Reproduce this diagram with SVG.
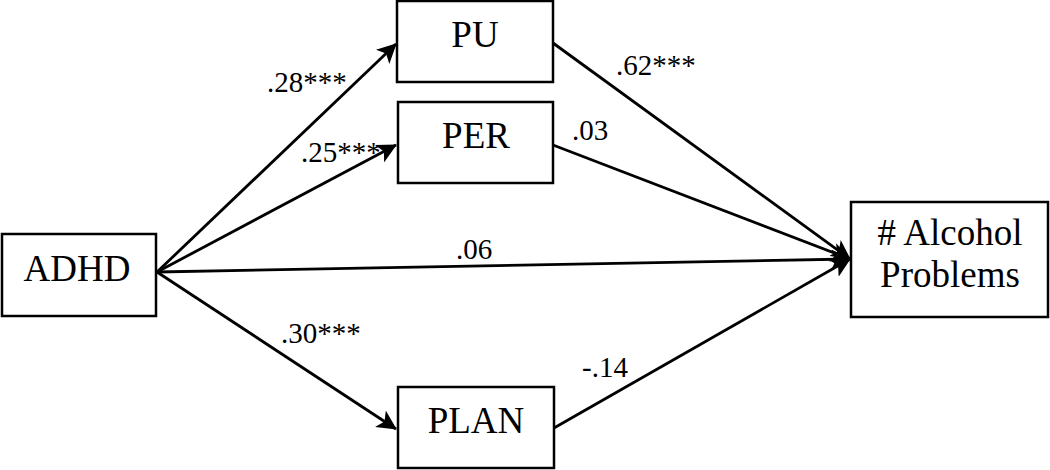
<svg xmlns="http://www.w3.org/2000/svg" width="1050" height="470" viewBox="0 0 1050 470">
<style>
.box{fill:#fff;stroke:#000;stroke-width:2.5}
text{font-family:'Liberation Serif','Times New Roman',serif;fill:#000}
.t{font-size:37px;text-anchor:middle}
.l{font-size:29px}
.c{stroke:#000;stroke-width:2.8;fill:none}
</style>
<defs>
<marker id="ah" viewBox="0 0 10 10" refX="9.5" refY="5" markerWidth="7" markerHeight="7" markerUnits="strokeWidth" orient="auto">
<path d="M0,0 L10,5 L0,10 L2.5,5 Z" fill="#000"/>
</marker>
</defs>
<g id="connectors">
<line class="c" x1="157" y1="272" x2="396" y2="44" marker-end="url(#ah)"/>
<line class="c" x1="157" y1="272" x2="396" y2="145" marker-end="url(#ah)"/>
<line class="c" x1="157" y1="272" x2="396" y2="429" marker-end="url(#ah)"/>
<line class="c" x1="157" y1="272" x2="850" y2="259" marker-end="url(#ah)"/>
<line class="c" x1="553" y1="43" x2="850" y2="259" marker-end="url(#ah)"/>
<line class="c" x1="553" y1="145" x2="850" y2="259" marker-end="url(#ah)"/>
<line class="c" x1="554" y1="428" x2="850" y2="259" marker-end="url(#ah)"/>
<text class="l" x="267" y="92">.28***</text>
<text class="l" x="301" y="162">.25***</text>
<text class="l" x="616" y="75">.62***</text>
<text class="l" x="572" y="140">.03</text>
<text class="l" x="456" y="259">.06</text>
<text class="l" x="281" y="343">.30***</text>
<text class="l" x="582" y="377">-.14</text>
</g>
<g id="adhd"><rect class="box" x="2" y="234" width="154" height="82"/><text class="t" x="77" y="281">ADHD</text></g>
<g id="pu"><rect class="box" x="397" y="1" width="156" height="81"/><text class="t" x="475" y="47">PU</text></g>
<g id="per"><rect class="box" x="398" y="102" width="155" height="81"/><text class="t" x="476" y="148">PER</text></g>
<g id="plan"><rect class="box" x="398" y="387" width="156" height="81"/><text class="t" x="476" y="433">PLAN</text></g>
<g id="alcohol"><rect class="box" x="851" y="202" width="197" height="115"/><text class="t" x="950" y="245"># Alcohol</text><text class="t" x="950" y="287">Problems</text></g>
</svg>
